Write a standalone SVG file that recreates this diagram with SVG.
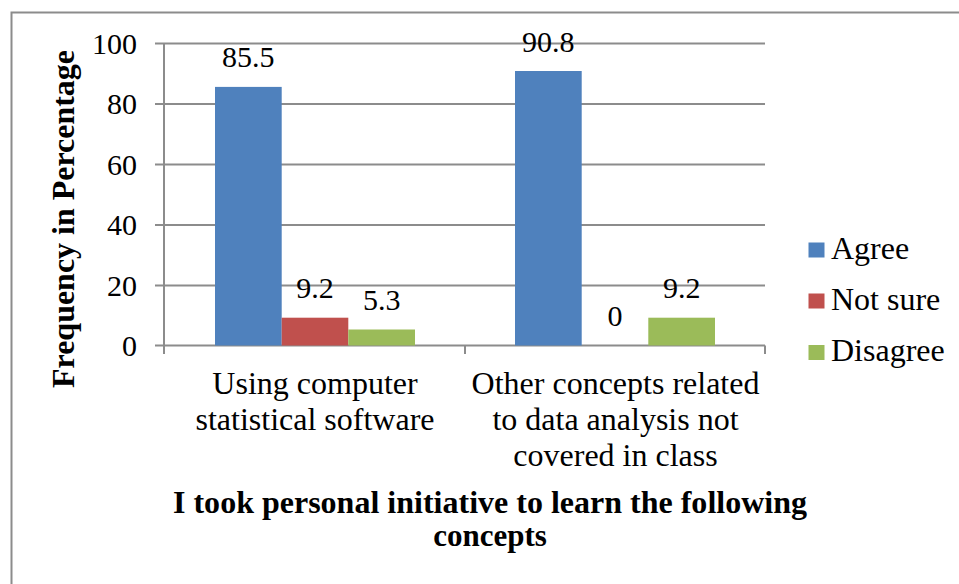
<svg xmlns="http://www.w3.org/2000/svg" width="959" height="584" viewBox="0 0 959 584">
<style>
text{font-family:"Liberation Serif","Times New Roman",serif;fill:#000}
.tick{font-size:30px;text-anchor:end}
.dl{font-size:30px;text-anchor:middle}
.cat{font-size:32px;text-anchor:middle}
.leg{font-size:32px}
.ttl{font-size:31px;font-weight:bold;text-anchor:middle}
.grid{stroke:#8c8c8c;stroke-width:2;fill:none}
.agree{fill:#4F81BD}
.notsure{fill:#C0504D}
.disagree{fill:#9BBB59}
</style>
<rect x="0" y="0" width="959" height="584" fill="#fff"/>
<rect id="frame" x="11.5" y="12.5" width="980" height="620" fill="none" stroke="#8c8c8c" stroke-width="2"/>
<g id="gridlines" class="grid">
<path d="M155 43.5H765M155 104H765M155 164.5H765M155 225H765M155 285.5H765"/>
</g>
<g id="axes" class="grid">
<path d="M164 43.5V354M155 345.5H765M465 345.5V354M765 345.5V354"/>
</g>
<g id="ticks">
<text class="tick" x="137" y="53.5">100</text>
<text class="tick" x="137" y="114">80</text>
<text class="tick" x="137" y="174.5">60</text>
<text class="tick" x="137" y="235">40</text>
<text class="tick" x="137" y="295.5">20</text>
<text class="tick" x="137" y="355.5">0</text>
</g>
<g id="bars">
<rect class="agree" x="215" y="86.9" width="66.7" height="258.6"/>
<rect class="notsure" x="281.7" y="317.7" width="66.6" height="27.8"/>
<rect class="disagree" x="348.3" y="329.5" width="66.7" height="16"/>
<rect class="agree" x="515" y="71" width="66.7" height="274.5"/>
<rect class="disagree" x="648.3" y="317.7" width="66.7" height="27.8"/>
</g>
<g id="data-labels">
<text class="dl" x="248.3" y="67">85.5</text>
<text class="dl" x="315" y="298">9.2</text>
<text class="dl" x="381.7" y="310">5.3</text>
<text class="dl" x="548.3" y="51.5">90.8</text>
<text class="dl" x="615" y="325.5">0</text>
<text class="dl" x="681.7" y="298">9.2</text>
</g>
<g id="category-labels">
<text class="cat" x="315" y="394">Using computer</text>
<text class="cat" x="315" y="430">statistical software</text>
<text class="cat" x="615.5" y="394">Other concepts related</text>
<text class="cat" x="615.5" y="430">to data analysis not</text>
<text class="cat" x="615.5" y="466">covered in class</text>
</g>
<g id="y-title">
<text class="ttl" transform="translate(74 219) rotate(-90)" x="0" y="0" textLength="338" lengthAdjust="spacingAndGlyphs">Frequency in Percentage</text>
</g>
<g id="x-title">
<text class="ttl" x="490" y="513" textLength="634" lengthAdjust="spacingAndGlyphs">I took personal initiative to learn the following</text>
<text class="ttl" x="490" y="546">concepts</text>
</g>
<g id="legend">
<rect class="agree" x="808.5" y="242.5" width="16" height="15"/>
<text class="leg" x="831" y="258.5">Agree</text>
<rect class="notsure" x="808.5" y="293.5" width="16" height="15"/>
<text class="leg" x="831" y="310">Not sure</text>
<rect class="disagree" x="808.5" y="345" width="16" height="15"/>
<text class="leg" x="831" y="361">Disagree</text>
</g>
</svg>
